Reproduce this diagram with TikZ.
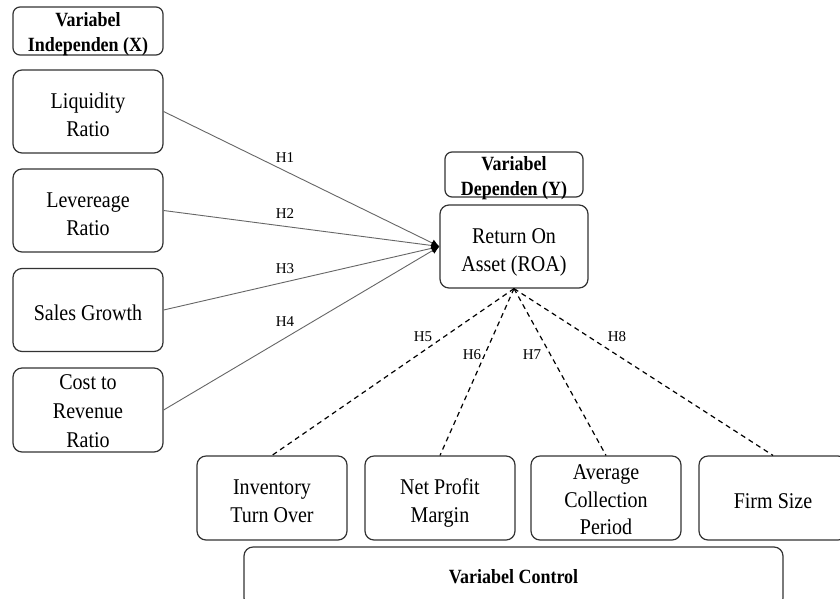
\documentclass[tikz,border=0pt]{standalone}
\usepackage{fontspec}
\setmainfont{Liberation Serif}
\newfontfamily\tallfont{Liberation Serif}[FakeStretch=0.89]
\usetikzlibrary{arrows.meta}
\begin{document}
\begin{tikzpicture}[x=1pt,y=-1pt,
 box/.style={draw=black!80, line width=1.2pt, rounded corners=9pt, align=center, font=\tallfont\fontsize{22.5}{28}\selectfont, inner sep=0pt, minimum width=150pt, minimum height=83pt, text depth=0pt},
 one/.style={text height=21pt},
 two/.style={text height=49pt},
 hdr/.style={draw=black!80, line width=1.2pt, rounded corners=7pt, align=center, font=\tallfont\fontsize{20.2}{25}\selectfont\bfseries, inner sep=0pt, text depth=0pt},
 solidline/.style={draw=black!60, line width=0.9pt, -{Latex[length=8pt,width=7.5pt,black]}},
 dashline/.style={draw=black, line width=1.2pt, dash pattern=on 5pt off 4pt},
 hlab/.style={font=\fontsize{15}{18}\selectfont, inner sep=0pt}]
\useasboundingbox (0,0) rectangle (840,598);
\clip (0,0) rectangle (840,598);
\fill[white] (0,0) rectangle (840,598);

% independent
\node[hdr, text height=41.4pt, minimum width=150pt, minimum height=48pt] (hx) at (88,31) {Variabel\\Independen (X)};
\node[box, two] (liq) at (88,111.5) {Liquidity\\Ratio};
\node[box, two] (lev) at (88,210.5) {Levereage\\Ratio};
\node[box, one] (sal) at (88,310) {Sales Growth};
\node[box, text height=75pt, minimum height=84pt, font=\tallfont\fontsize{22.5}{29}\selectfont] (cos) at (88,410) {Cost to\\Revenue\\Ratio};

% dependent
\node[hdr, text height=41.4pt, minimum width=138pt, minimum height=45pt] (hy) at (514,174.5) {Variabel\\Dependen (Y)};
\node[box, two, minimum width=148pt] (roa) at (514,246.5) {Return On\\Asset (ROA)};

% control
\node[box, two, minimum height=84pt] (inv) at (272,498) {Inventory\\Turn Over};
\node[box, two, minimum height=84pt] (npm) at (440,498) {Net Profit\\Margin};
\node[box, minimum height=84pt, text height=73pt, font=\tallfont\fontsize{22.5}{27.5}\selectfont] (acp) at (606,498) {Average\\Collection\\Period};
\node[box, one, minimum width=148pt, minimum height=84pt] (fs) at (773,498) {Firm Size};
\node[hdr, text height=13.4pt, rounded corners=9pt, minimum width=539pt, minimum height=60pt] (vc) at (513.5,577) {Variabel Control};

% connectors
\coordinate (tip) at (roa.west);
\draw[solidline] (liq.east) -- (tip);
\draw[solidline] (lev.east) -- (tip);
\draw[solidline] (sal.east) -- (tip);
\draw[solidline] (cos.east) -- (tip);

\coordinate (src) at (roa.south);
\draw[dashline] (src) -- (inv.north);
\draw[dashline] (src) -- (npm.north);
\draw[dashline] (src) -- (acp.north);
\draw[dashline] (src) -- (fs.north);

% labels
\node[hlab] (h1) at (285,158) {H1};
\node[hlab] (h2) at (285,214) {H2};
\node[hlab] (h3) at (285,269) {H3};
\node[hlab] (h4) at (285,322) {H4};
\node[hlab] (h5) at (423,337) {H5};
\node[hlab] (h6) at (472,355) {H6};
\node[hlab] (h7) at (532,355) {H7};
\node[hlab] (h8) at (617,337) {H8};
\end{tikzpicture}
\end{document}
